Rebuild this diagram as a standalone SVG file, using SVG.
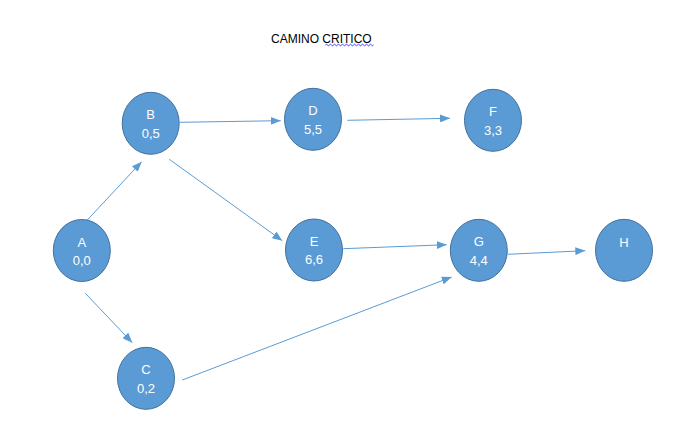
<svg xmlns="http://www.w3.org/2000/svg" width="686" height="437" viewBox="0 0 686 437">
<style>
.n ellipse{fill:#5B9BD5;stroke:#41719C;stroke-width:1}
.n text{fill:#fff;font-family:"Liberation Sans",Arial,sans-serif;font-size:13px;text-anchor:middle}
.c line{stroke:#5B9BD5;stroke-width:1;fill:none}
.t{font-family:"Liberation Sans",Arial,sans-serif;font-size:12px;fill:#000}
</style>
<defs>
<marker id="ah" viewBox="0 0 10 8" refX="10" refY="4" markerWidth="10" markerHeight="8" markerUnits="userSpaceOnUse" orient="auto">
<path d="M0,0 L10,4 L0,8 Z" fill="#5B9BD5"/>
</marker>
</defs>
<rect width="686" height="437" fill="#fff"/>
<text class="t" x="271" y="42.5">CAMINO CRITICO</text>
<path d="M325.5,45 q1,-1.5 2,0 t2,0 t2,0 t2,0 t2,0 t2,0 t2,0 t2,0 t2,0 t2,0 t2,0 t2,0 t2,0 t2,0 t2,0 t2,0 t2,0 t2,0 t2,0 t2,0 t2,0 t2,0 t2,0 t2,0" fill="none" stroke="#3333ff" stroke-width="1"/>
<g class="c" id="connectors">
<line x1="87.3" y1="220" x2="141.7" y2="161.7" marker-end="url(#ah)"/>
<line x1="85.3" y1="293.3" x2="132.3" y2="342.7" marker-end="url(#ah)"/>
<line x1="180" y1="122.3" x2="280.7" y2="120.7" marker-end="url(#ah)"/>
<line x1="169.3" y1="159.3" x2="282.3" y2="240.7" marker-end="url(#ah)"/>
<line x1="347.3" y1="120.3" x2="450" y2="118.3" marker-end="url(#ah)"/>
<line x1="343.3" y1="248.7" x2="446.7" y2="244.7" marker-end="url(#ah)"/>
<line x1="507.7" y1="254.3" x2="585.3" y2="250.7" marker-end="url(#ah)"/>
<line x1="182.3" y1="380" x2="451.7" y2="277" marker-end="url(#ah)"/>
</g>
<g class="n" id="A"><ellipse cx="81.8" cy="250.5" rx="28.5" ry="31"/><text x="81.8" y="246.6">A</text><text x="81.8" y="264.8">0,0</text></g>
<g class="n" id="B"><ellipse cx="150.7" cy="123.3" rx="28.5" ry="31"/><text x="150.7" y="119.4">B</text><text x="150.7" y="137.6">0,5</text></g>
<g class="n" id="C"><ellipse cx="146" cy="378.3" rx="28.5" ry="31"/><text x="146" y="374.4">C</text><text x="146" y="392.6">0,2</text></g>
<g class="n" id="D"><ellipse cx="313" cy="119.3" rx="28.5" ry="31"/><text x="313" y="115.4">D</text><text x="313" y="133.6">5,5</text></g>
<g class="n" id="E"><ellipse cx="314" cy="250" rx="28.5" ry="31"/><text x="314" y="246.1">E</text><text x="314" y="264.3">6,6</text></g>
<g class="n" id="F"><ellipse cx="493" cy="120.3" rx="28.5" ry="31"/><text x="493" y="116.4">F</text><text x="493" y="134.6">3,3</text></g>
<g class="n" id="G"><ellipse cx="478.8" cy="250.3" rx="28.5" ry="31"/><text x="478.8" y="246.4">G</text><text x="478.8" y="264.6">4,4</text></g>
<g class="n" id="H"><ellipse cx="624" cy="250.3" rx="28.5" ry="31"/><text x="624" y="246.9">H</text></g>
</svg>
